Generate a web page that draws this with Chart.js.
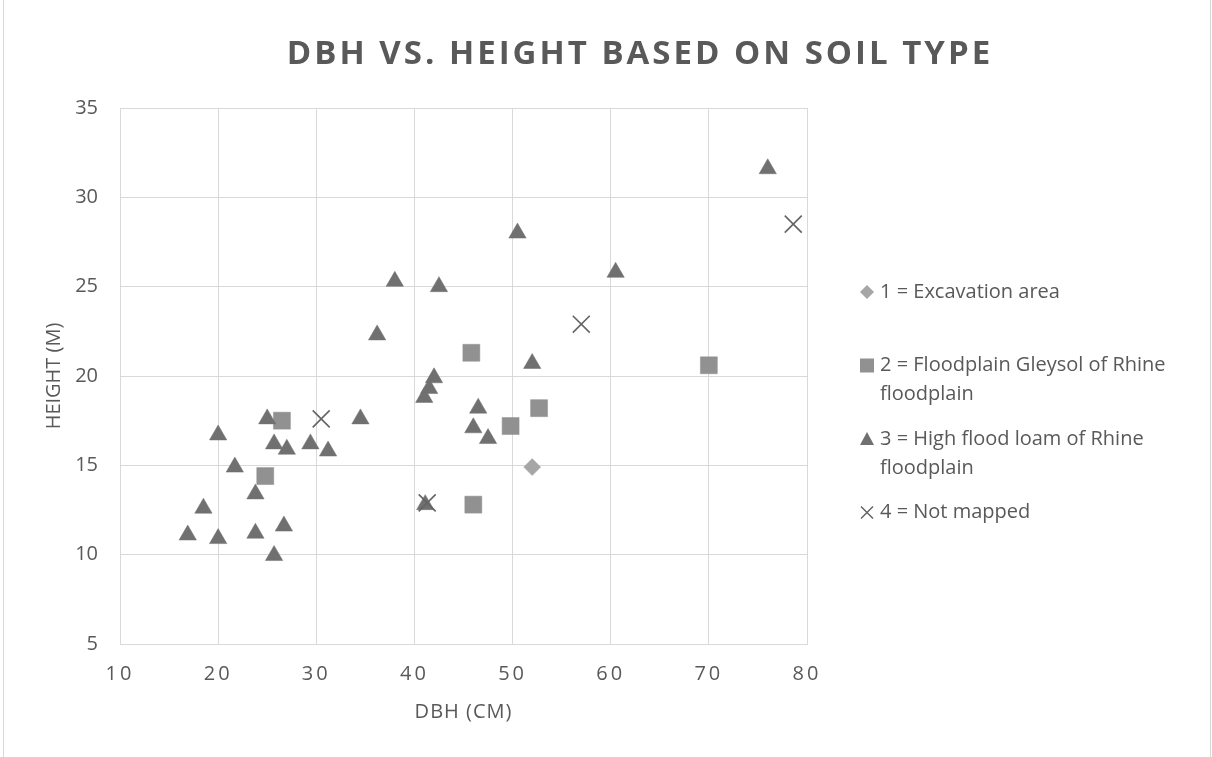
<!DOCTYPE html>
<html>
<head>
<meta charset="utf-8">
<script src="https://cdn.jsdelivr.net/npm/chart.js@4.4.1/dist/chart.umd.min.js"></script>
<style>
    body { margin: 0; background: #fff; }
    canvas { display: block; }
</style>
</head>
<body>
<canvas id="scatterChart" width="1212" height="757"></canvas>
<script>
const chartTitle = 'DBH VS. HEIGHT BASED ON SOIL TYPE';
const xTitle = 'DBH (CM)';
const yTitle = 'HEIGHT (M)';

// legend lines for each soil type
const soilLabels = [
    ['1 = Excavation area'],
    ['2 = Floodplain Gleysol of Rhine', 'floodplain'],
    ['3 = High flood loam of Rhine', 'floodplain'],
    ['4 = Not mapped']
];

// DBH (cm) and height (m) per soil type
const excavationDbh = [52.0];
const excavationHeight = [14.9];

const gleysolDbh = [26.5, 24.8, 45.8, 52.7, 49.8, 46.0, 70.0];
const gleysolHeight = [17.5, 14.4, 21.3, 18.2, 17.2, 12.8, 20.6];

const loamDbh = [25.0, 34.5, 20.0, 25.7, 27.0, 29.4, 31.2, 21.7, 23.8, 18.5, 16.9, 20.0, 23.8, 26.7, 25.7,
    50.5, 38.0, 42.5, 60.5, 36.2, 52.0, 42.0, 41.5, 41.0, 46.5, 46.0, 47.5, 41.1, 76.0];
const loamHeight = [17.6, 17.6, 16.7, 16.2, 15.9, 16.2, 15.8, 14.9, 13.4, 12.6, 11.1, 10.9, 11.2, 11.6, 9.95,
    28.0, 25.3, 25.0, 25.8, 22.3, 20.7, 19.9, 19.3, 18.8, 18.2, 17.1, 16.5, 12.8, 31.6];

const notMappedDbh = [30.5, 57.0, 41.3, 78.6];
const notMappedHeight = [17.6, 22.9, 12.9, 28.5];

const xTicks = [10, 20, 30, 40, 50, 60, 70, 80];
const yTicks = [5, 10, 15, 20, 25, 30, 35];

const toPoints = (xs, ys) => xs.map((x, i) => ({ x: x, y: ys[i] }));

const textColor = '#595959';
const gridColor = '#d9d9d9';

const drawMarker = (c, style, x, y, color) => {
    c.fillStyle = color;
    c.strokeStyle = color;
    c.beginPath();
    if (style === 'rectRot') {
        c.moveTo(x, y - 7); c.lineTo(x + 7, y); c.lineTo(x, y + 7); c.lineTo(x - 7, y);
        c.closePath(); c.fill();
    } else if (style === 'rect') {
        c.rect(x - 7, y - 7, 14, 14); c.fill();
    } else if (style === 'triangle') {
        c.moveTo(x, y - 7); c.lineTo(x + 7, y + 6); c.lineTo(x - 7, y + 6);
        c.closePath(); c.fill();
    } else {
        c.lineWidth = 1.5;
        c.moveTo(x - 6, y - 6); c.lineTo(x + 6, y + 6);
        c.moveTo(x + 6, y - 6); c.lineTo(x - 6, y + 6);
        c.stroke();
    }
};

const chartDecor = {
    id: 'chartDecor',
    afterUpdate(chart) {
        // spaced-out x tick labels like the Excel original
        const s = chart.scales.x;
        if (!s._spaced) {
            const origLabels = s.drawLabels.bind(s);
            s.drawLabels = function (area) {
                this.ctx.save();
                this.ctx.letterSpacing = '3px';
                origLabels(area);
                this.ctx.restore();
            };
            const origTitle = s.drawTitle.bind(s);
            s.drawTitle = function (area) {
                this.ctx.save();
                this.ctx.letterSpacing = '1px';
                origTitle(area);
                this.ctx.restore();
            };
            s._spaced = true;
        }
    },
    beforeDraw(chart) {
        const c = chart.ctx;
        c.save();
        c.fillStyle = '#fff';
        c.fillRect(0, 0, chart.width, chart.height);
        c.strokeStyle = gridColor;
        c.lineWidth = 1;
        c.strokeRect(3.5, -2, 1207, 780);
        c.restore();
    },
    afterDraw(chart) {
        const c = chart.ctx;
        c.save();
        // title
        c.font = 'bold 33px "Open Sans"';
        c.letterSpacing = '3px';
        c.fillStyle = textColor;
        c.textAlign = 'center';
        c.textBaseline = 'middle';
        c.fillText(chartTitle, 640, 55);
        // legend
        c.letterSpacing = '0px';
        c.font = '20px "Open Sans"';
        c.textAlign = 'left';
        chart.data.datasets.forEach((ds, i) => {
            const y0 = 292 + i * 73.5;
            drawMarker(c, ds.pointStyle, 867, y0, ds.backgroundColor);
            c.fillStyle = textColor;
            soilLabels[i].forEach((line, k) => {
                c.fillText(line, 880, y0 + k * 29);
            });
        });
        c.restore();
    }
};

const ctx = document.getElementById('scatterChart');
const myChart = new Chart(ctx, {
    type: 'scatter',
    data: {
        datasets: [{
            label: soilLabels[0].join(' '),
            data: toPoints(excavationDbh, excavationHeight),
            pointStyle: 'rectRot',
            pointRadius: 8.5,
            backgroundColor: '#a6a6a6',
            borderColor: '#a6a6a6',
            borderWidth: 0.5,
            order: 4
        }, {
            label: soilLabels[1].join(' '),
            data: toPoints(gleysolDbh, gleysolHeight),
            pointStyle: 'rect',
            pointRadius: 12,
            backgroundColor: '#919191',
            borderColor: '#919191',
            borderWidth: 0.5,
            order: 3
        }, {
            label: soilLabels[2].join(' '),
            data: toPoints(loamDbh, loamHeight),
            pointStyle: 'triangle',
            pointRadius: 10,
            backgroundColor: '#707070',
            borderColor: '#707070',
            borderWidth: 0.5,
            order: 2
        }, {
            label: soilLabels[3].join(' '),
            data: toPoints(notMappedDbh, notMappedHeight),
            pointStyle: 'crossRot',
            pointRadius: 12,
            backgroundColor: '#646464',
            borderColor: '#646464',
            borderWidth: 1.6,
            order: 1
        }]
    },
    options: {
        responsive: false,
        maintainAspectRatio: false,
        animation: false,
        layout: {
            padding: { top: 108, right: 405, bottom: 0, left: 0 }
        },
        plugins: {
            legend: { display: false },
            title: { display: false },
            tooltip: { enabled: false }
        },
        scales: {
            x: {
                type: 'linear',
                min: xTicks[0],
                max: xTicks[xTicks.length - 1],
                afterBuildTicks: axis => { axis.ticks = xTicks.map(v => ({ value: v })); },
                afterFit: axis => { axis.height = 113; },
                grid: { color: gridColor, lineWidth: 1, drawTicks: false },
                border: { color: gridColor, width: 1 },
                ticks: {
                    color: textColor,
                    font: { family: 'Open Sans', size: 20 },
                    padding: 18,
                    maxRotation: 0
                },
                title: {
                    display: true,
                    text: xTitle,
                    color: textColor,
                    font: { family: 'Open Sans', size: 20 },
                    padding: { top: 0, bottom: 33 }
                }
            },
            y: {
                type: 'linear',
                min: yTicks[0],
                max: yTicks[yTicks.length - 1],
                afterBuildTicks: axis => { axis.ticks = yTicks.map(v => ({ value: v })); },
                afterFit: axis => { axis.width = 120; },
                grid: { color: gridColor, lineWidth: 1, drawTicks: false },
                border: { color: gridColor, width: 1 },
                ticks: {
                    color: textColor,
                    font: { family: 'Open Sans', size: 20 },
                    padding: 22
                },
                title: {
                    display: true,
                    text: yTitle,
                    color: textColor,
                    font: { family: 'Open Sans', size: 20 },
                    padding: { top: 42, bottom: 0 }
                }
            }
        }
    },
    plugins: [chartDecor]
});
</script>
</body>
</html>
